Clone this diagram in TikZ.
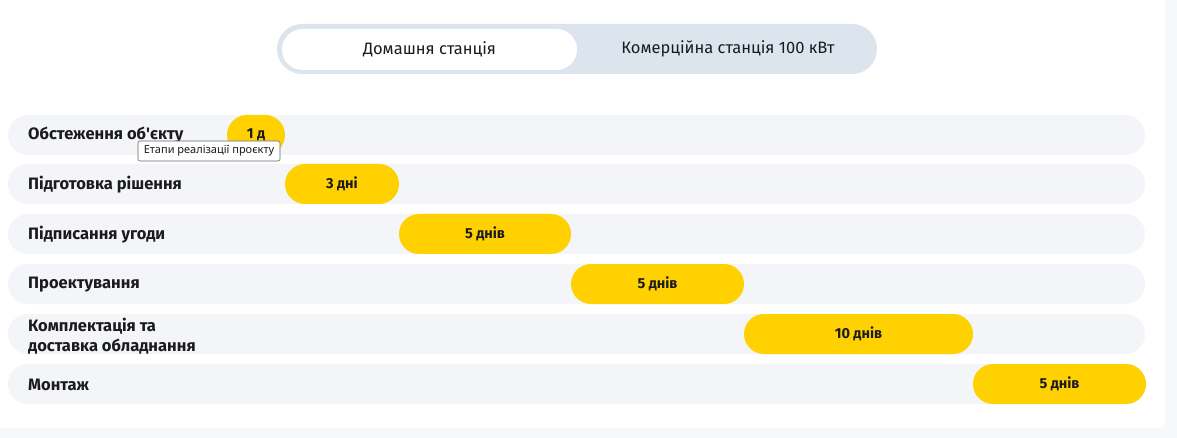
\documentclass[tikz,border=0pt]{standalone}
\usepackage{fontspec}
\setmainfont{Fira Sans}
\newfontfamily\tipfont{Noto Sans}
\usetikzlibrary{positioning}

\definecolor{pagegray}{HTML}{F7F8F9}
\definecolor{rowgray}{HTML}{F3F5F8}
\definecolor{toggleblue}{HTML}{DCE5EE}
\definecolor{pillyellow}{HTML}{FFD100}
\definecolor{inkdark}{HTML}{1B1B1F}

\tikzset{
  rowbar/.style={rectangle, fill=rowgray, rounded corners=20pt,
    minimum width=1137pt, minimum height=40pt, inner sep=0pt},
  rowlabel/.style={anchor=west, align=left, inner sep=0pt, text=inkdark,
    font=\fontsize{16.5}{20.5}\selectfont\bfseries},
  pill/.style={rectangle, fill=pillyellow, rounded corners=20pt,
    minimum height=40pt, inner sep=0pt, text=inkdark,
    font=\fontsize{14.5}{16}\selectfont\bfseries},
  tabtext/.style={inner sep=0pt, text=inkdark, font=\fontsize{16.5}{19}\selectfont},
}

\begin{document}
\begin{tikzpicture}[x=1pt, y=-1pt]
  \useasboundingbox (0,0) rectangle (1177,438);

  % page and card
  \fill [pagegray] (0,0) rectangle (1177,438);
  \fill [white, rounded corners=8pt] (-10,-10) rectangle (1165,428);

  % toggle
  \node [rectangle, fill=toggleblue, rounded corners=25pt, minimum width=600pt,
         minimum height=50pt, inner sep=0pt] (toggle) at (577,49) {};
  \node [rectangle, fill=white, rounded corners=20.5pt, minimum width=295pt,
         minimum height=41pt, inner sep=0pt] (hometab) at (429.5,49.5) {};
  \node [tabtext] (hometext) at (hometab) {Домашня станція};
  \node [tabtext] (commtext) at (728,48.5) {Комерційна станція 100 кВт};

  % rows
  \node [rowbar] (row1) at (576.5,135) {};
  \node [rowbar] (row2) at (576.5,184) {};
  \node [rowbar] (row3) at (576.5,234) {};
  \node [rowbar] (row4) at (576.5,284) {};
  \node [rowbar] (row5) at (576.5,334) {};
  \node [rowbar] (row6) at (576.5,384) {};

  % labels
  \node [rowlabel] (survey)   at (28,135) {Обстеження об\textquotesingle єкту};
  \node [rowlabel] (solution) at (28,185) {Підготовка рішення};
  \node [rowlabel] (contract) at (28,235) {Підписання угоди};
  \node [rowlabel] (design)   at (28,285) {Проектування};
  \node [rowlabel] (delivery) at (28,336) {Комплектація та\\доставка обладнання};
  \node [rowlabel] (mounting) at (28,385) {Монтаж};

  % stages
  \node [pill, minimum width=58pt]  (stage1) at (256,135)   {1 д};
  \node [pill, minimum width=114pt] (stage2) at (342,184)   {3 дні};
  \node [pill, minimum width=172pt] (stage3) at (485,234)   {5 днів};
  \node [pill, minimum width=173pt] (stage4) at (657.5,284) {5 днів};
  \node [pill, minimum width=229pt] (stage5) at (858.5,334) {10 днів};
  \node [pill, minimum width=173pt] (stage6) at (1059.5,384) {5 днів};

  % tooltip
  \node [rectangle, draw=black!60, fill=white, rounded corners=2pt, line width=0.6pt,
         minimum width=142pt, minimum height=20pt, inner sep=0pt,
         font=\tipfont\fontsize{11}{13}\selectfont, text=inkdark]
        (tooltip) at (209,151) {Етапи реалізації проєкту};

\end{tikzpicture}
\end{document}
